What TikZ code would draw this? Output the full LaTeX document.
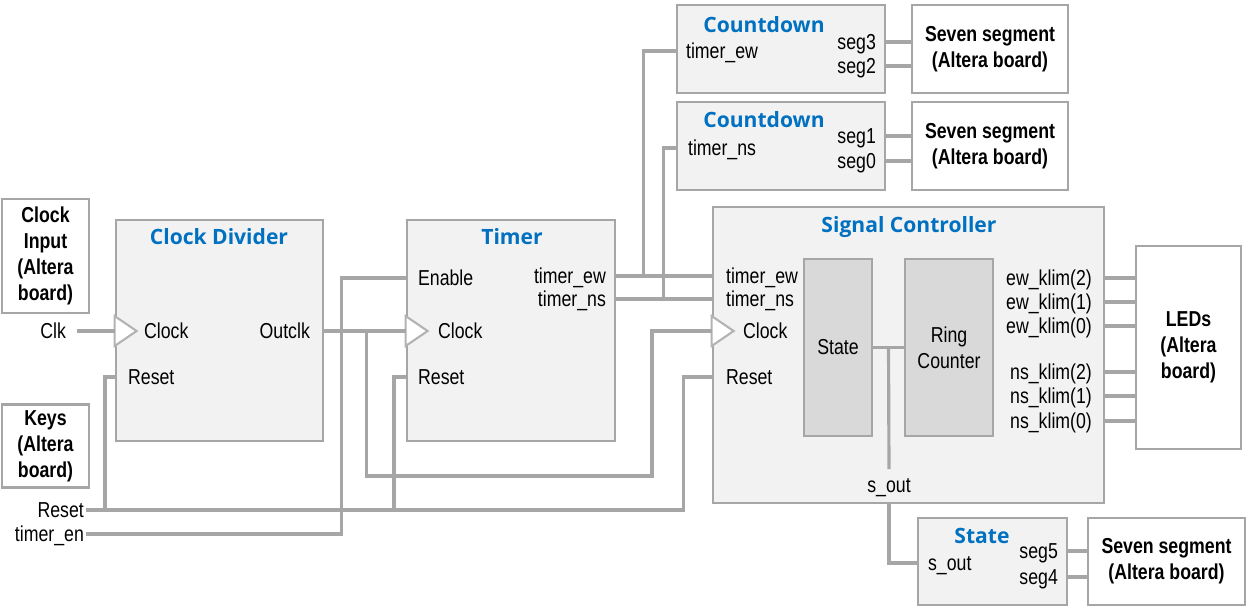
\documentclass[tikz,border=0pt]{standalone}
\usepackage{xcolor}
\usepackage{fontspec}
\setmainfont{Liberation Sans}[FakeStretch=0.82]
\newfontfamily\titlefont{Open Sans}
\usepackage{tikz}
\usetikzlibrary{calc}

\definecolor{wiregray}{RGB}{166,166,166}
\definecolor{boxfill}{RGB}{242,242,242}
\definecolor{innerfill}{RGB}{217,217,217}
\definecolor{titleblue}{RGB}{0,112,192}

\begin{document}
\begin{tikzpicture}[x=0.02cm, y=-0.02cm, font=\fontsize{12.3}{14.7}\selectfont,
  blk/.style={draw=wiregray, line width=1.6pt, fill=boxfill, inner sep=0pt},
  brd/.style={draw=wiregray, line width=1.6pt, fill=white, align=center, inner sep=0pt, font=\fontsize{12.3}{14.7}\selectfont\bfseries},
  inr/.style={draw=wiregray, line width=1pt, fill=innerfill, align=center, inner sep=0pt, minimum height=3.54cm},
  ttl/.style={text=titleblue, font=\titlefont\fontsize{12}{14}\selectfont\bfseries},
  port/.style={inner sep=1pt, text height=8.8pt, text depth=0pt},
  wire/.style={draw=wiregray, line width=1.8pt},
  tri/.style={draw=wiregray!85, line width=1.2pt, fill=white}]
\useasboundingbox (0,0) rectangle (1250,609);

\node[brd, minimum width=1.74cm, minimum height=2.28cm] (ci) at (45.5,256) {Clock\\Input\\(Altera\\board)};
\node[brd, minimum width=1.74cm, minimum height=1.66cm] (ky) at (45.5,446) {Keys\\(Altera\\board)};
\node[blk, minimum width=4.14cm, minimum height=4.42cm] (cd) at (219.5,330.5) {};
\node[blk, minimum width=4.16cm, minimum height=4.42cm] (tm) at (511,330.5) {};
\node[blk, minimum width=7.82cm, minimum height=5.92cm] (sc) at (908.5,355) {};
\node[inr, minimum width=1.36cm] (st) at (838,347.5) {State};
\node[inr, minimum width=1.76cm] (rc) at (949,347.5) {Ring\\Counter};
\node[brd, minimum width=2.1cm, minimum height=4.06cm] (led) at (1188.5,347.5) {LEDs\\(Altera\\board)};
\node[blk, minimum width=4.16cm, minimum height=1.76cm] (cdew) at (781,49) {};
\node[blk, minimum width=4.16cm, minimum height=1.76cm] (cdns) at (781,146) {};
\node[brd, minimum width=3.12cm, minimum height=1.76cm] (ssew) at (990,49) {Seven segment\\(Altera board)};
\node[brd, minimum width=3.12cm, minimum height=1.76cm] (ssns) at (990,146) {Seven segment\\(Altera board)};
\node[blk, minimum width=2.98cm, minimum height=1.74cm] (sb) at (992.5,561.5) {};
\node[brd, minimum width=3.14cm, minimum height=1.74cm] (ssst) at (1166.5,561.5) {Seven segment\\(Altera board)};

\node[ttl] (cdtitle) at (219,237) {Clock Divider};
\node[ttl] (tmtitle) at (512,237) {Timer};
\node[ttl] (sctitle) at (909,227) {Signal Controller};
\node[ttl] (c1title) at (764,25) {Countdown};
\node[ttl] (c2title) at (764,120) {Countdown};
\node[ttl] (sbtitle) at (982,536) {State};

\node[port, anchor=east] (clk) at (68,331) {Clk};
\node[port, anchor=east] (rst) at (86,510) {Reset};
\node[port, anchor=east] (ten) at (86,534) {timer\_en};

\node[port, anchor=west] (cdclk) at (142,331) {Clock};
\node[port, anchor=west] (cdrst) at (126,377) {Reset};
\node[port, anchor=east] (cdout) at (312,331) {Outclk};

\node[port, anchor=west] (tmen) at (416,278) {Enable};
\node[port, anchor=west] (tmclk) at (436,331) {Clock};
\node[port, anchor=west] (tmrst) at (416,377) {Reset};
\node[port, anchor=east] (tmew) at (608,276) {timer\_ew};
\node[port, anchor=east] (tmns) at (608,299) {timer\_ns};

\node[port, anchor=west] (scew) at (724,276) {timer\_ew};
\node[port, anchor=west] (scns) at (724,299) {timer\_ns};
\node[port, anchor=west] (scclk) at (741,331) {Clock};
\node[port, anchor=west] (scrst) at (724,377) {Reset};
\node[port] (scout) at (889,485) {s\_out};
\node[port, anchor=east] (ew2) at (1094,278) {ew\_klim(2)};
\node[port, anchor=east] (ew1) at (1094,302) {ew\_klim(1)};
\node[port, anchor=east] (ew0) at (1094,326) {ew\_klim(0)};
\node[port, anchor=east] (ns2) at (1094,372) {ns\_klim(2)};
\node[port, anchor=east] (ns1) at (1094,396) {ns\_klim(1)};
\node[port, anchor=east] (ns0) at (1094,421) {ns\_klim(0)};

\node[port, anchor=west] (c1in) at (684,51) {timer\_ew};
\node[port, anchor=east] (s3) at (878,42) {seg3};
\node[port, anchor=east] (s2) at (878,66) {seg2};
\node[port, anchor=west] (c2in) at (686,148) {timer\_ns};
\node[port, anchor=east] (s1) at (878,136) {seg1};
\node[port, anchor=east] (s0) at (878,161) {seg0};

\node[port, anchor=west] (sbin) at (926,563) {s\_out};
\node[port, anchor=east] (s5) at (1060,551) {seg5};
\node[port, anchor=east] (s4) at (1060,577) {seg4};

\foreach \b/\c in {cd/cdclk, tm/tmclk, sc/scclk}
  \draw[tri] ($(\b.west |- \c)+(0,-15)$) -- ++(22,15) -- ++(-22,15) -- cycle;

\draw[wire] ([xshift=0.18cm]clk.east) -- (cd.west |- clk);
\draw[wire] (cd.east |- cdout) -- (tm.west |- tmclk);
\draw[wire] ($(cd.east |- cdout)+(42,0)$) |- (652,476) |- (sc.west |- scclk);
\draw[wire] (rst.east) -| ($(sc.west |- scrst)+(-28,0)$) -- (sc.west |- scrst);
\draw[wire] ($(rst.east)+(19,0)$) |- (cd.west |- cdrst);
\draw[wire] ($(rst.east)+(308,0)$) |- (tm.west |- tmrst);
\draw[wire] (ten.east) -| ($(tm.west |- tmen)+(-64,0)$) -- (tm.west |- tmen);
\draw[wire] (tm.east |- tmew) -- (sc.west |- scew);
\draw[wire] (tm.east |- tmns) -- (sc.west |- scns);
\draw[wire] ($(tm.east |- tmew)+(27,0)$) |- (cdew.west |- c1in);
\draw[wire] ($(tm.east |- tmns)+(47,0)$) |- (cdns.west |- c2in);

\draw[wire] (st.east) -- (rc.west);
\draw[wire] ($(st.east)!0.5!(rc.west)$) -- ([yshift=0.12cm]scout.north);
\draw[wire] (sc.south -| scout) |- (sb.west |- sbin);

\foreach \p in {ew2,ew1,ew0,ns2,ns1,ns0}
  \draw[wire] (sc.east |- \p) -- (led.west |- \p);
\foreach \p/\a/\b in {s3/cdew/ssew, s2/cdew/ssew, s1/cdns/ssns, s0/cdns/ssns, s5/sb/ssst, s4/sb/ssst}
  \draw[wire] (\a.east |- \p) -- (\b.west |- \p);
\end{tikzpicture}
\end{document}
